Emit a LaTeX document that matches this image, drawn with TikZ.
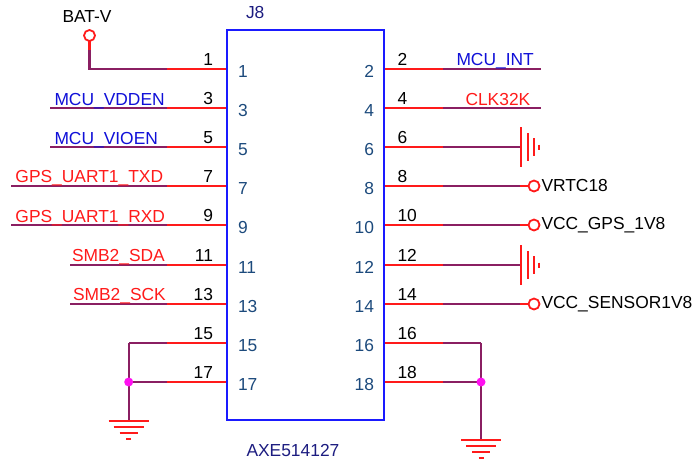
\documentclass[tikz,border=0pt]{standalone}
\usepackage{fontspec}
\usetikzlibrary{calc}
\setmainfont{Liberation Sans}
\definecolor{netred}{HTML}{FF1A1A}
\definecolor{wirep}{HTML}{8A1F62}
\definecolor{boxblue}{HTML}{1A1AFF}
\definecolor{pinnav}{HTML}{1C4A7C}
\definecolor{refnav}{HTML}{1C1C80}
\definecolor{netblue}{HTML}{1010D8}
\definecolor{junc}{HTML}{FF10F0}
\tikzset{
  pinline/.style={draw=netred,line width=2.2pt},
  wireline/.style={draw=wirep,line width=2.2pt,line join=miter},
  gndline/.style={draw=netred,line width=2pt},
  txt/.style={font=\fontsize{17.4}{19}\selectfont,inner sep=0pt,outer sep=0pt},
  outer/.style={txt,text=black},
  inner/.style={txt,text=pinnav},
  refd/.style={txt,text=refnav},
  rednet/.style={txt,text=netred,anchor=base west},
  bluenet/.style={txt,text=netblue,anchor=base west},
  power/.style={txt,text=black,anchor=base west},
  ring/.style={circle,draw=netred,line width=1.8pt,fill=white,minimum size=11pt,inner sep=0pt,outer sep=0pt},
  dotj/.style={circle,fill=junc,minimum size=9pt,inner sep=0pt}
}
\begin{document}
\begin{tikzpicture}[x=1pt,y=-1pt]
\useasboundingbox (0,0) rectangle (694,461);
% left pins
\foreach \n/\y/\e in {1/69/89.5,3/108/50,5/147/50,7/186/11,9/225/11,11/265/70,13/304/70,15/343/128.7,17/382/128.7}{
  \coordinate (L\n) at (227,\y);
  \coordinate (LM\n) at (167,\y);
  \coordinate (LE\n) at (\e,\y);
  \draw[wireline] (LM\n) -- (LE\n);
  \draw[pinline] (L\n) -- (LM\n);
  \node[outer,anchor=base east] (LO\n) at (213,\y-4) {\n};
  \node[inner,anchor=base west] (LI\n) at (238,\y+8) {\n};
}
% right pins
\foreach \n/\y/\e in {2/69/541,4/108/541,6/147/521,8/186/529,10/225/529,12/265/521,14/304/529,16/343/481,18/382/481}{
  \coordinate (R\n) at (384,\y);
  \coordinate (RM\n) at (443,\y);
  \coordinate (RE\n) at (\e,\y);
  \draw[wireline] (RM\n) -- (RE\n);
  \draw[pinline] (R\n) -- (RM\n);
  \node[outer,anchor=base west] (RO\n) at (397.5,\y-4) {\n};
  \node[inner,anchor=base east] (RI\n) at (374,\y+8) {\n};
}
% connector body
\node[draw=boxblue,line width=2.4pt,minimum width=157pt,minimum height=390.5pt,inner sep=0pt,outer sep=0pt,anchor=north west] (J) at (226.8,29.7) {};
\node[refd,anchor=base west] (jref) at (246,18) {J8};
\node[refd,anchor=base west] (jval) at (246.5,456.5) {AXE514127};
% BAT-V
\node[ring] (batring) at (89.5,35.5) {};
\coordinate (batm) at (89.5,50);
\draw[pinline] (batring) -- (batm);
\draw[wireline] (batm) -- (LE1) -- (LM1);
\node[power] (batlab) at (62.5,22.5) {BAT-V};
% net labels
\node[bluenet] (n3) at (54.5,105) {MCU\_VDDEN};
\node[bluenet] (n5) at (54.5,144) {MCU\_VIOEN};
\node[rednet] (n7) at (15.5,182.5) {GPS\_UART1\_TXD};
\node[rednet] (n9) at (15.5,222) {GPS\_UART1\_RXD};
\node[rednet] (n11) at (72,261) {SMB2\_SDA};
\node[rednet] (n13) at (73,300) {SMB2\_SCK};
\node[bluenet] (n2) at (456.5,65.5) {MCU\_INT};
\node[rednet] (n4) at (465.5,105) {CLK32K};
% power rings
\foreach \n/\t in {8/VRTC18,10/VCC\_GPS\_1V8,14/VCC\_SENSOR1V8}{
  \node[ring] (ring\n) at ($(RE\n)+(5,0)$) {};
  \coordinate (rs\n) at ($(RE\n)+(-9,0)$);
  \draw[pinline] (rs\n) -- (ring\n);
  \node[power,anchor=west] (pw\n) at ($(RE\n)+(12.5,0)$) {\t};
}
% side grounds
\foreach \n in {6,12}{
  \coordinate (g\n) at (RE\n);
  \draw[gndline] ($(g\n)+(0,-20)$) -- ($(g\n)+(0,20)$);
  \draw[gndline] ($(g\n)+(6.5,-14)$) -- ($(g\n)+(6.5,14)$);
  \draw[gndline] ($(g\n)+(12.5,-9)$) -- ($(g\n)+(12.5,9)$);
  \draw[gndline] ($(g\n)+(18,-2.5)$) -- ($(g\n)+(18,2.5)$);
}
% bottom left
\coordinate (gl) at (128.7,420.5);
\draw[wireline] (LE15) -- (gl);
\node[dotj] (jl) at (LE17) {};
% bottom right
\coordinate (gr) at (481,440);
\draw[wireline] (RE16) -- (gr);
\node[dotj] (jr) at (RE18) {};
\foreach \c in {gl,gr}{
  \draw[gndline] ($(\c)+(-20,0)$) -- ($(\c)+(20,0)$);
  \draw[gndline] ($(\c)+(-15,6)$) -- ($(\c)+(15,6)$);
  \draw[gndline] ($(\c)+(-9,12)$) -- ($(\c)+(9,12)$);
  \draw[gndline] ($(\c)+(-2.5,18)$) -- ($(\c)+(2.5,18)$);
}
\end{tikzpicture}
\end{document}
